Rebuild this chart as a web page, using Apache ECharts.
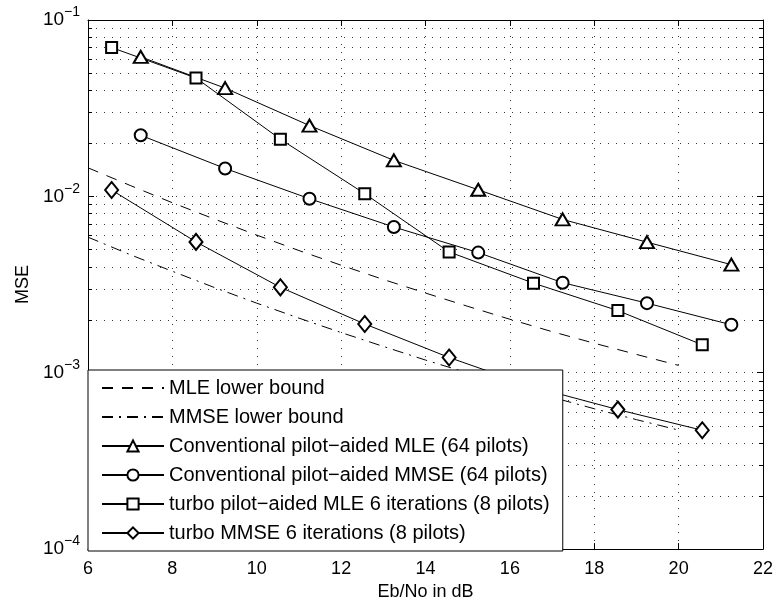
<!DOCTYPE html>
<html><head><meta charset="utf-8">
<script src="https://cdn.jsdelivr.net/npm/echarts@6/dist/echarts.min.js"></script>
<style>html,body{margin:0;padding:0;background:#fff}#c{width:777px;height:606px}</style>
</head><body><div id="c"></div>
<script>
// ---- data ----
const xMin = 6, xMax = 22;
const xTickValues = [6, 8, 10, 12, 14, 16, 18, 20, 22];
const yDecades = [1e-4, 1e-3, 1e-2, 1e-1];
const seriesNames = [
  'MLE lower bound',
  'MMSE lower bound',
  'Conventional pilot\u2212aided MLE (64 pilots)',
  'Conventional pilot\u2212aided MMSE (64 pilots)',
  'turbo pilot\u2212aided MLE 6 iterations (8 pilots)',
  'turbo MMSE 6 iterations (8 pilots)'
];
const boundSnr = [6, 7, 8, 9, 10, 11, 12, 13, 14, 15, 16, 17, 18, 19, 20];
const mleBound = [0.01452, 0.01153, 0.00920, 0.00743, 0.00603, 0.00493, 0.00407, 0.00338, 0.00283, 0.00238, 0.00201, 0.00171, 0.00147, 0.00127, 0.00110];
const mmseBound = [0.00587, 0.00467, 0.00376, 0.00304, 0.00248, 0.00204, 0.00169, 0.00141, 0.00118, 0.000997, 0.000848, 0.000726, 0.000625, 0.000542, 0.000473];
const convSnr = [7.25, 9.25, 11.25, 13.25, 15.25, 17.25, 19.25, 21.25];
const convMle = [0.0618, 0.0411, 0.0252, 0.0160, 0.0109, 0.0074, 0.0055, 0.0041];
const convMmse = [0.0222, 0.0144, 0.0097, 0.0067, 0.0048, 0.00324, 0.00248, 0.00187];
const turboSnr = [6.56, 8.56, 10.56, 12.56, 14.56, 16.56, 18.56, 20.56];
const turboMle = [0.0698, 0.0469, 0.0211, 0.01035, 0.00484, 0.00322, 0.00225, 0.00144];
const turboMmse = [0.01086, 0.00552, 0.00305, 0.00189, 0.00122, 0.00083, 0.000618, 0.000472];

// ---- build ----
const FONT = '"Liberation Sans", Arial, Helvetica, sans-serif';
const zip = (xs, ys) => xs.map((x, i) => [x, ys[i]]);
const yMinorValues = [];
yDecades.slice(0, -1).forEach(d => { for (let k = 2; k <= 9; k++) yMinorValues.push(+(d * k).toPrecision(3)); });
const GRID_COLOR = '#333', GRID_DASH = [1, 7];
const gridLine = { show: true, lineStyle: { color: GRID_COLOR, width: 1, type: GRID_DASH } };
const axisLine = { show: true, onZero: false, lineStyle: { color: '#000', width: 1 } };

const lineSeries = (name, data, symbol, size, dash) => ({
  name, type: 'line', data,
  symbol: symbol || 'none', symbolSize: size || 0,
  showSymbol: !!symbol,
  lineStyle: { color: '#000', width: 1, type: dash || 'solid' },
  itemStyle: { color: '#000', borderColor: '#000', borderWidth: 1 },
  emphasis: { disabled: true }, silent: true, z: 3
});

// minor log grid lines + minor ticks on both vertical sides
const minorGrid = {
  type: 'custom', name: '__minor', silent: true, z: 1, clip: false,
  data: yMinorValues.map(v => [xMin, v]),
  encode: { x: 0, y: 1 },
  renderItem: (params, api) => {
    const v = api.value(1);
    const a = api.coord([xMin, v]), b = api.coord([xMax, v]);
    const y = Math.round(a[1]) + 0.5;
    return { type: 'group', children: [
      { type: 'line', shape: { x1: a[0], y1: y, x2: b[0], y2: y }, style: { stroke: GRID_COLOR, lineWidth: 1, lineDash: GRID_DASH } },
      { type: 'line', shape: { x1: a[0], y1: y, x2: a[0] + 4, y2: y }, style: { stroke: '#000', lineWidth: 1 } },
      { type: 'line', shape: { x1: b[0] - 4, y1: y, x2: b[0], y2: y }, style: { stroke: '#000', lineWidth: 1 } }
    ] };
  }
};

const option = {
  animation: false,
  backgroundColor: '#fff',
  grid: { left: 88, right: 14, top: 20, bottom: 55, containLabel: false },
  xAxis: [{
    type: 'value', min: xMin, max: xMax, interval: 2, position: 'bottom',
    axisLine, axisTick: { show: true, inside: true, length: 6, lineStyle: { color: '#000' } },
    axisLabel: { color: '#000', fontSize: 18, fontFamily: FONT, margin: 11 },
    splitLine: gridLine,
    name: 'Eb/No in dB', nameLocation: 'middle', nameGap: 32,
    nameTextStyle: { color: '#000', fontSize: 18, fontFamily: FONT }
  }, {
    type: 'value', min: xMin, max: xMax, interval: 2, position: 'top',
    axisLine, axisTick: { show: true, inside: true, length: 6, lineStyle: { color: '#000' } },
    axisLabel: { show: false }, splitLine: { show: false }
  }],
  yAxis: [{
    type: 'log', logBase: 10, min: 1e-4, max: 1e-1, position: 'left',
    axisLine, axisTick: { show: true, inside: true, length: 6, lineStyle: { color: '#000' } },
    axisLabel: {
      color: '#000', fontFamily: FONT, margin: 8,
      formatter: v => '{b|10}{s|\u2212' + Math.round(-Math.log10(v)) + '}',
      rich: { b: { fontSize: 19, fontFamily: FONT, color: '#000' }, s: { fontSize: 14, fontFamily: FONT, color: '#000', padding: [0, 0, 15, 0] } }
    },
    splitLine: gridLine,
    name: 'MSE', nameLocation: 'middle', nameGap: 56,
    nameTextStyle: { color: '#000', fontSize: 18, fontFamily: FONT }
  }, {
    type: 'log', logBase: 10, min: 1e-4, max: 1e-1, position: 'right',
    axisLine, axisTick: { show: true, inside: true, length: 6, lineStyle: { color: '#000' } },
    axisLabel: { show: false }, splitLine: { show: false }
  }],
  legend: {
    orient: 'vertical', left: 88, top: 370,
    padding: [8, 13, 8, 13], itemWidth: 62, itemHeight: 14, itemGap: 9,
    backgroundColor: '#fff', borderColor: '#000', borderWidth: 1, borderRadius: 0,
    textStyle: { color: '#000', fontSize: 20, fontFamily: FONT, lineHeight: 20 },
    selectedMode: false, z: 10,
    data: seriesNames.map((n, i) => i < 2 ? { name: n, itemStyle: { opacity: 0 } } : n)
  },
  series: [
    minorGrid,
    lineSeries(seriesNames[0], zip(boundSnr, mleBound), null, 0, [11, 9]),
    lineSeries(seriesNames[1], zip(boundSnr, mmseBound), null, 0, [11, 6, 2, 6]),
    lineSeries(seriesNames[2], zip(convSnr, convMle), 'emptyTriangle', [14, 12]),
    lineSeries(seriesNames[3], zip(convSnr, convMmse), 'emptyCircle', 12),
    lineSeries(seriesNames[4], zip(turboSnr, turboMle), 'emptyRect', 11),
    lineSeries(seriesNames[5], zip(turboSnr, turboMmse), 'emptyDiamond', [13, 16])
  ]
};
const chart = echarts.init(document.getElementById('c'), null, { renderer: 'canvas' });
chart.setOption(option);
</script></body></html>
